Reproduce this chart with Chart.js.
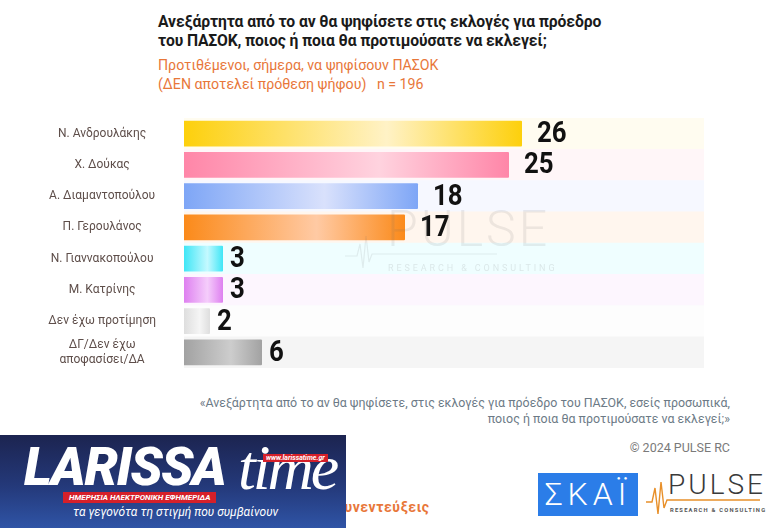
<!DOCTYPE html>
<html lang="el">
<head>
<meta charset="UTF-8">
<title>ΠΑΣΟΚ - πρόεδρος</title>
<script src="https://cdn.jsdelivr.net/npm/chart.js@4"></script>
<style>
  body { margin: 0; width: 769px; height: 528px; background: #fff; position: relative; overflow: hidden; font-family: Roboto, "Noto Sans", sans-serif; }
  #title { position: absolute; left: 158px; top: 12px; font-weight: 700; font-size: 15.7px; line-height: 19px; color: #1a1a1a; letter-spacing: -0.1px; }
  #subtitle { position: absolute; left: 158px; top: 56px; font-size: 14.2px; line-height: 19px; color: #e8773a; }
  #wrap { position: absolute; left: 0; top: 118px; width: 704px; height: 250px; }
  #watermark { position: absolute; left: 387px; top: 199px; color: rgba(110,110,110,0.12); font-size: 50px; letter-spacing: 3px; font-weight: 300; line-height: 60px; }
  #watermark2 { position: absolute; left: 388px; top: 263px; color: rgba(110,110,110,0.16); font-size: 9px; letter-spacing: 2.9px; }
  #wmline { position: absolute; left: 345px; top: 232px; }
  #quote { position: absolute; right: 39px; top: 395px; text-align: right; font-size: 12.4px; line-height: 16px; color: #6c7a86; white-space: nowrap; }
  #copy { position: absolute; right: 39px; top: 440px; font-size: 12.5px; color: #7a7a7a; }
  #larissa { position: absolute; left: 0; top: 435px; width: 346px; height: 93px; background: linear-gradient(180deg, #1c2450 0%, #24397a 55%, #2f54a6 100%); overflow: hidden; }
  #larissa .big { position: absolute; left: 24px; top: 1px; color: #fff; font-weight: 900; font-style: italic; font-size: 53px; letter-spacing: -1.5px; }
  #larissa .time { position: absolute; left: 238px; top: -4px; color: #fff; font-family: "Liberation Serif", serif; font-style: italic; font-size: 64px; letter-spacing: -3px; }
  #larissa .red { position: absolute; left: 63px; top: 57px; background: #d5202a; color: #fff; font-size: 8px; font-weight: 700; font-style: italic; padding: 1px 6px; }
  #larissa .url { position: absolute; left: 263px; top: 19px; background: #d5202a; color: #fff; font-size: 7px; font-weight: 700; font-style: italic; padding: 0 3px; }
  #larissa .tag { position: absolute; left: 73px; top: 70px; color: #fff; font-size: 12px; font-style: italic; }
  #syn { position: absolute; left: 336px; top: 499px; color: #e8773a; font-size: 14px; font-weight: 700; letter-spacing: 0.5px; }
  #skai { position: absolute; left: 538px; top: 473px; width: 100px; height: 43px; background: #2b7de8; color: #fff; font-size: 32px; font-weight: 300; text-align: center; line-height: 43px; letter-spacing: 5px; }
  #pulse { position: absolute; left: 668px; top: 468px; color: #3a3a3a; font-size: 28px; letter-spacing: 3px; font-weight: 300; }
  #pulse2 { position: absolute; left: 670px; top: 507px; color: #555; font-size: 5.8px; letter-spacing: 1.2px; font-weight: 700; }
  #beat { position: absolute; left: 646px; top: 478px; }
</style>
</head>
<body>
<div id="title">Ανεξάρτητα από το αν θα ψηφίσετε στις εκλογές για πρόεδρο<br>του ΠΑΣΟΚ, ποιος ή ποια θα προτιμούσατε να εκλεγεί;</div>
<div id="subtitle">Προτιθέμενοι, σήμερα, να ψηφίσουν ΠΑΣΟΚ<br>(ΔΕΝ αποτελεί πρόθεση ψήφου)&nbsp;&nbsp;&nbsp;n = 196</div>
<div id="wrap"><canvas id="chart"></canvas></div>
<div id="watermark">PULSE</div>
<svg id="wmline" width="160" height="40"><polyline points="0,24 12,24 15,12 18,36 21,4 24,30 27,22 152,22" fill="none" stroke="rgba(110,110,110,0.12)" stroke-width="1.2"/></svg>
<div id="watermark2">RESEARCH &amp; CONSULTING</div>
<div id="quote">«Ανεξάρτητα από το αν θα ψηφίσετε, στις εκλογές για πρόεδρο του ΠΑΣΟΚ, εσείς προσωπικά,<br>ποιος ή ποια θα προτιμούσατε να εκλεγεί;»</div>
<div id="copy">© 2024 PULSE RC</div>
<div id="syn">συνεντεύξεις</div>
<div id="larissa">
  <div class="big">LARISSA</div>
  <div class="time">time</div>
  <div class="url">www.larissatime.gr</div>
  <div class="red">ΗΜΕΡΗΣΙΑ ΗΛΕΚΤΡΟΝΙΚΗ ΕΦΗΜΕΡΙΔΑ</div>
  <div class="tag">τα γεγονότα τη στιγμή που συμβαίνουν</div>
</div>
<div id="skai">ΣΚΑΪ</div>
<svg id="beat" width="120" height="40"><polyline points="0,24 6,24 9,10 12,36 15,4 18,30 21,22 114,22" fill="none" stroke="#e8902a" stroke-width="1.4"/></svg>
<div id="pulse">PULSE</div>
<div id="pulse2">RESEARCH &amp; CONSULTING</div>

<script>
  // Δεδομένα
  const categories = ['Ν. Ανδρουλάκης', 'Χ. Δούκας', 'Α. Διαμαντοπούλου', 'Π. Γερουλάνος',
    'Ν. Γιαννακοπούλου', 'Μ. Κατρίνης', 'Δεν έχω προτίμηση', ['ΔΓ/Δεν έχω', 'αποφασίσει/ΔΑ']];
  const values = [26, 25, 18, 17, 3, 3, 2, 6];
  const axisMax = 40;

  // χρώματα: σκούρο άκρο, ανοιχτό κέντρο, φόντο γραμμής
  const darkColors = ['#fdd00c', '#ff86a8', '#7ea6f6', '#fb8a1a', '#3fe6f6', '#de80f0', '#dedede', '#a2a2a2'];
  const lightColors = ['#fff2c6', '#ffd3df', '#d9e1fc', '#ffcaa4', '#c4f9ff', '#f5cdfb', '#f5f5f5', '#cdcdcd'];
  const rowColors = ['#fffcf0', '#fff6f8', '#f6f8ff', '#fff6ee', '#effeff', '#fdf6fe', '#fdfdfd', '#f5f5f5'];

  function barGradient(c) {
    const chart = c.chart;
    if (!chart.chartArea || c.type !== 'data') return darkColors[c.dataIndex];
    const xs = chart.scales.x;
    const x0 = xs.getPixelForValue(0);
    const x1 = xs.getPixelForValue(values[c.dataIndex]);
    const g = chart.ctx.createLinearGradient(x0, 0, x1, 0);
    g.addColorStop(0, darkColors[c.dataIndex]);
    g.addColorStop(0.6, lightColors[c.dataIndex]);
    g.addColorStop(1, darkColors[c.dataIndex]);
    return g;
  }

  // ετικέτες τιμών
  const valueLabels = {
    id: 'valueLabels',
    afterDatasetsDraw(chart) {
      const ctx = chart.ctx;
      const meta = chart.getDatasetMeta(1);
      ctx.save();
      ctx.fillStyle = '#111';
      ctx.font = 'bold 30px Roboto';
      ctx.textBaseline = 'middle';
      meta.data.forEach((bar, i) => {
        const txt = String(values[i]);
        ctx.save();
        ctx.translate(bar.x + (txt.length > 1 ? 15 : 7), bar.y + 1);
        ctx.scale(0.86, 1);
        ctx.fillText(txt, 0, 0);
        ctx.restore();
      });
      ctx.restore();
    }
  };

  new Chart(document.getElementById('chart'), {
    type: 'bar',
    data: {
      labels: categories,
      datasets: [
        {
          data: categories.map(() => axisMax),
          backgroundColor: rowColors,
          barPercentage: 1,
          categoryPercentage: 1,
          grouped: false,
          order: 2
        },
        {
          data: values,
          backgroundColor: barGradient,
          barPercentage: 0.82,
          categoryPercentage: 1,
          grouped: false,
          borderRadius: 1,
          order: 1
        }
      ]
    },
    options: {
      indexAxis: 'y',
      responsive: true,
      maintainAspectRatio: false,
      animation: false,
      layout: { padding: 0 },
      plugins: { legend: { display: false }, tooltip: { enabled: false } },
      scales: {
        x: { display: false, min: 0, max: axisMax },
        y: {
          grid: { display: false, drawTicks: false },
          border: { display: false },
          afterFit(scale) {
            scale.width = 184;
            scale.paddingTop = 0;
            scale.paddingBottom = 0;
          },
          ticks: {
            autoSkip: false,
            crossAlign: 'center',
            padding: 28,
            color: '#5e4e4a',
            font: { family: 'Roboto', size: 12 }
          }
        }
      }
    },
    plugins: [valueLabels]
  });
</script>
</body>
</html>
